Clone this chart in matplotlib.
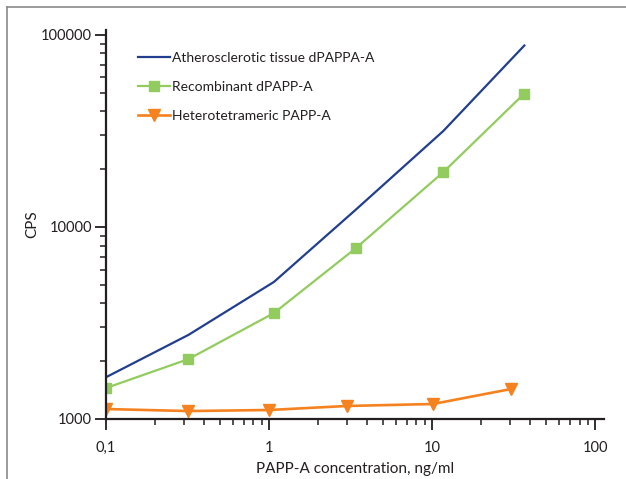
import matplotlib
matplotlib.use("Agg")
import matplotlib.pyplot as plt
from matplotlib.lines import Line2D
from matplotlib.ticker import LogLocator, FixedLocator, FixedFormatter, NullFormatter

plt.rcParams['font.family'] = ['Lato', 'DejaVu Sans']

# Data
conc_main = [0.1, 0.32, 1.07, 3.4, 11.7, 36.7]
athero = [1650, 2740, 5170, 12300, 31600, 88000]
recomb = [1450, 2050, 3560, 7750, 19300, 49500]
conc_hetero = [0.1, 0.32, 1.0, 3.0, 10.1, 30.5]
hetero = [1127, 1100, 1114, 1169, 1197, 1433]

series_labels = ["Atherosclerotic tissue dPAPPA-A", "Recombinant dPAPP-A", "Heterotetrameric PAPP-A"]
x_ticks = [0.1, 1, 10, 100]
x_ticklabels = ["0,1", "1", "10", "100"]
y_ticks = [1000, 10000, 100000]
y_ticklabels = ["1000", "10000", "100000"]

c_blue = "#213f8e"
c_green = "#92cc5e"
c_orange = "#f5821f"
txt = "#231f20"

fig = plt.figure(figsize=(6.26, 4.79), dpi=100)
ax = fig.add_axes([106/626, 60/479, 498/626, 389/479])

ax.plot(conc_main, athero, color=c_blue, lw=1.6, label=series_labels[0])
ax.plot(conc_main, recomb, color=c_green, lw=1.6, marker='s', ms=6.5, label=series_labels[1])
ax.plot(conc_hetero, hetero, color=c_orange, lw=1.9, marker='v', ms=8.5, label=series_labels[2])

ax.set_xscale('log')
ax.set_yscale('log')
ax.set_xlim(0.1, 113)
ax.set_ylim(1000, 106000)

ax.xaxis.set_major_locator(FixedLocator(x_ticks))
ax.xaxis.set_major_formatter(FixedFormatter(x_ticklabels))
ax.xaxis.set_minor_locator(LogLocator(base=10, subs=range(2, 10)))
ax.xaxis.set_minor_formatter(NullFormatter())
ax.yaxis.set_major_locator(FixedLocator(y_ticks))
ax.yaxis.set_major_formatter(FixedFormatter(y_ticklabels))
ax.yaxis.set_minor_locator(LogLocator(base=10, subs=range(2, 10)))
ax.yaxis.set_minor_formatter(NullFormatter())

for s in ['top', 'right']:
    ax.spines[s].set_visible(False)
for s in ['left', 'bottom']:
    ax.spines[s].set_color(txt)
    ax.spines[s].set_linewidth(1.6)

ax.tick_params(which='major', direction='out', length=8, width=1.3, color=txt,
               labelsize=10.5, labelcolor=txt)
ax.tick_params(which='minor', direction='out', length=4.5, width=1.1, color=txt)
ax.tick_params(axis='x', which='major', pad=8)
ax.tick_params(axis='y', which='major', pad=2)

ax.set_xlabel("PAPP-A concentration, ng/ml", fontsize=11, color=txt, labelpad=5)
ax.set_ylabel("CPS", fontsize=11, color=txt, labelpad=1)

leg = ax.legend(loc='upper left', bbox_to_anchor=(0.054, 0.957), frameon=False,
                fontsize=10, handlelength=2.3, handletextpad=0.15, labelspacing=1.22,
                borderaxespad=0)
for t in leg.get_texts():
    t.set_color(txt)

# figure border (top and left)
fig.add_artist(Line2D([7/626, 7/626], [0, 1 - 7/479], transform=fig.transFigure,
                      color="#8a8a8a", lw=1.2))
fig.add_artist(Line2D([7/626, 1], [1 - 7/479, 1 - 7/479], transform=fig.transFigure,
                      color="#8a8a8a", lw=1.2))

fig.savefig("out.png", dpi=100)
